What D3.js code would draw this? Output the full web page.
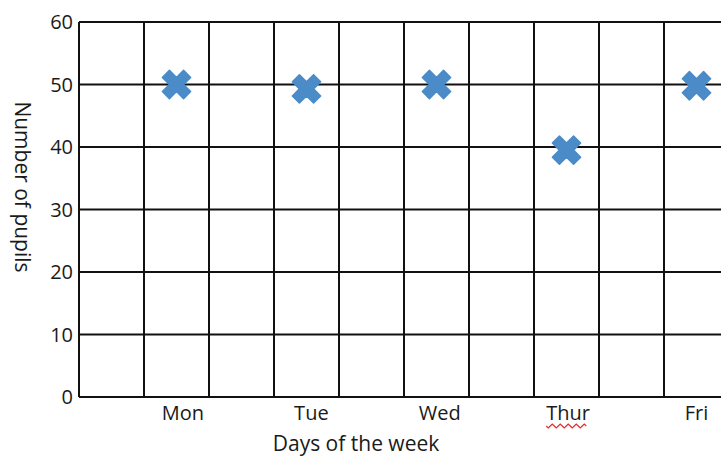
<!DOCTYPE html>
<html><head><meta charset="utf-8">
<script src="https://cdn.jsdelivr.net/npm/d3@7"></script>
<style>body{margin:0;background:#fff}svg{display:block}text{font-family:"Open Sans",sans-serif;fill:#1a1a1a}</style>
</head><body><svg id="c" width="721" height="458"></svg>
<script>
const days = ["Mon","Tue","Wed","Thur","Fri"];
const pupils = [50, 49.3, 50, 39.5, 49.8];
const yTicks = [0,10,20,30,40,50,60];
const gridCols = [0,1,2,3,4,5,6,7,8,9,10];
const xTitle = "Days of the week";
const yTitle = "Number of pupils";

const svg = d3.select("#c");
const mL = 79, mT = 22, mB = 397, mR = 729;
const y = d3.scaleLinear().domain([0,60]).range([mB, mT]);
const gx = d3.scaleLinear().domain([0,10]).range([mL, mR]);
const x = d3.scalePoint().domain(days).range([gx(1.5), gx(9.5)]);
const xLab = d3.scalePoint().domain(days).range([gx(1.6), gx(9.5)]);

// grid
svg.append("g").selectAll("line").data(yTicks).join("line")
  .attr("x1", mL).attr("x2", mR).attr("y1", d=>y(d)).attr("y2", d=>y(d))
  .attr("stroke","#111").attr("stroke-width",2);
svg.append("g").selectAll("line").data(gridCols).join("line")
  .attr("x1", d=>gx(d)).attr("x2", d=>gx(d)).attr("y1", mT).attr("y2", mB)
  .attr("stroke","#111").attr("stroke-width",2);

// y tick labels
svg.append("g").selectAll("text").data(yTicks).join("text")
  .attr("x", mL-6).attr("y", d=>y(d)).attr("dy","0.36em")
  .attr("text-anchor","end").attr("font-size",20).text(d=>d);

// x labels
const xl = svg.append("g").selectAll("text").data(days).join("text")
  .attr("x", d=>xLab(d)).attr("y", 420)
  .attr("text-anchor","middle").attr("font-size",20).text(d=>d);

// spellcheck squiggle under Thur
xl.filter(d=>d==="Thur").each(function(){
  const b = this.getBBox();
  let p = "M"+b.x+","+(b.y+b.height);
  for(let i=0;i<Math.floor(b.width/4);i++){ p += " l2,"+(i%2?-2:2)+" l2,"+(i%2?2:-2); }
  svg.append("path").attr("d",p).attr("fill","none").attr("stroke","#e03030").attr("stroke-width",1.2);
});

// titles
svg.append("text").attr("x", 356).attr("y", 451).attr("text-anchor","middle").attr("font-size",21).text(xTitle);
svg.append("text").attr("transform","translate(15,187) rotate(90)").attr("text-anchor","middle").attr("font-size",21).text(yTitle);

// markers
svg.append("g").selectAll("path").data(days).join("path")
  .attr("d", d3.symbol(d3.symbolCross, 500))
  .attr("transform",(d,i)=>`translate(${x(d)},${y(pupils[i])}) rotate(45)`)
  .attr("fill","#4a8bc8").attr("stroke","#4a8bc8").attr("stroke-width",1.5).attr("stroke-linejoin","round");
</script></body></html>
